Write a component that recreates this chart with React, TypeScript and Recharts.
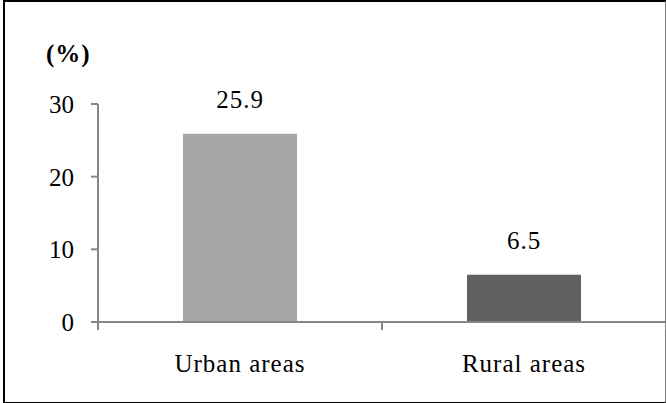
import React from "react";
import { BarChart, Bar, XAxis, YAxis, Cell, LabelList } from "recharts";

const areas = ["Urban areas", "Rural areas"];
const shares = [25.9, 6.5];
const barColors = ["#a6a6a6", "#606060"];
const yTicks = [0, 10, 20, 30];

const data = areas.map((area, i) => ({ area, share: shares[i] }));

const FONT = '"Liberation Serif", "Times New Roman", serif';
const AXIS_GRAY = "#868686";
const LABEL_GAP = 32;
const EDGE_TICK = 8;

// category label plus the small tick marks on the band edges
const AreaTick = (props: any) => {
  const { x, y, payload, index, visibleTicksCount } = props;
  const half = payload.offset || 0;
  const axisY = y - LABEL_GAP;
  const isLast = index === visibleTicksCount - 1;
  return (
    <g>
      <line
        x1={x - half}
        x2={x - half}
        y1={axisY}
        y2={axisY + EDGE_TICK}
        stroke={AXIS_GRAY}
        strokeWidth={2}
      />
      {isLast && (
        <line
          x1={x + half}
          x2={x + half}
          y1={axisY}
          y2={axisY + EDGE_TICK}
          stroke={AXIS_GRAY}
          strokeWidth={2}
        />
      )}
      <text
        x={x}
        y={y}
        dy="0.71em"
        textAnchor="middle"
        fill="#000"
        fontSize={25}
        fontFamily={FONT}
        letterSpacing={1}
      >
        {payload.value}
      </text>
    </g>
  );
};

export default function App() {
  return (
    <div
      style={{
        position: "fixed",
        left: 0,
        top: 0,
        width: 666,
        height: 403,
        background: "#fff",
        fontFamily: FONT,
      }}
    >
      {/* frame around the figure */}
      <div
        style={{
          position: "absolute",
          left: 3,
          top: 0,
          width: 660,
          height: 400,
          borderTop: "2px solid #000",
          borderLeft: "2px solid #000",
          borderBottom: "2px solid #000",
          borderRight: "2px solid #777",
        }}
      />
      <div
        style={{
          position: "absolute",
          left: 46,
          top: 41,
          fontSize: 25,
          lineHeight: 1,
          fontWeight: "bold",
          letterSpacing: 1,
          color: "#000",
        }}
      >
        (%)
      </div>
      <div style={{ position: "absolute", left: 0, top: 0 }}>
        <BarChart
          width={666}
          height={403}
          data={data}
          margin={{ top: 104, right: 0, bottom: 51, left: 38 }}
        >
          <YAxis
            width={60}
            domain={[0, 30]}
            ticks={yTicks}
            interval={0}
            axisLine={{ stroke: AXIS_GRAY, strokeWidth: 2 }}
            tickLine={{ stroke: AXIS_GRAY, strokeWidth: 2 }}
            tickSize={7}
            tickMargin={17}
            tick={{ fill: "#000", fontSize: 25, fontFamily: FONT }}
          />
          <XAxis
            dataKey="area"
            height={30}
            interval={0}
            axisLine={{ stroke: AXIS_GRAY, strokeWidth: 2 }}
            tickLine={false}
            tickSize={0}
            tickMargin={LABEL_GAP}
            tick={<AreaTick />}
          />
          <Bar dataKey="share" barSize={114} isAnimationActive={false}>
            {data.map((d, i) => (
              <Cell key={d.area} fill={barColors[i]} />
            ))}
            <LabelList
              dataKey="share"
              position="top"
              offset={26}
              fill="#000"
              fontSize={25}
              fontFamily={FONT}
              letterSpacing={1}
            />
          </Bar>
        </BarChart>
      </div>
    </div>
  );
}
